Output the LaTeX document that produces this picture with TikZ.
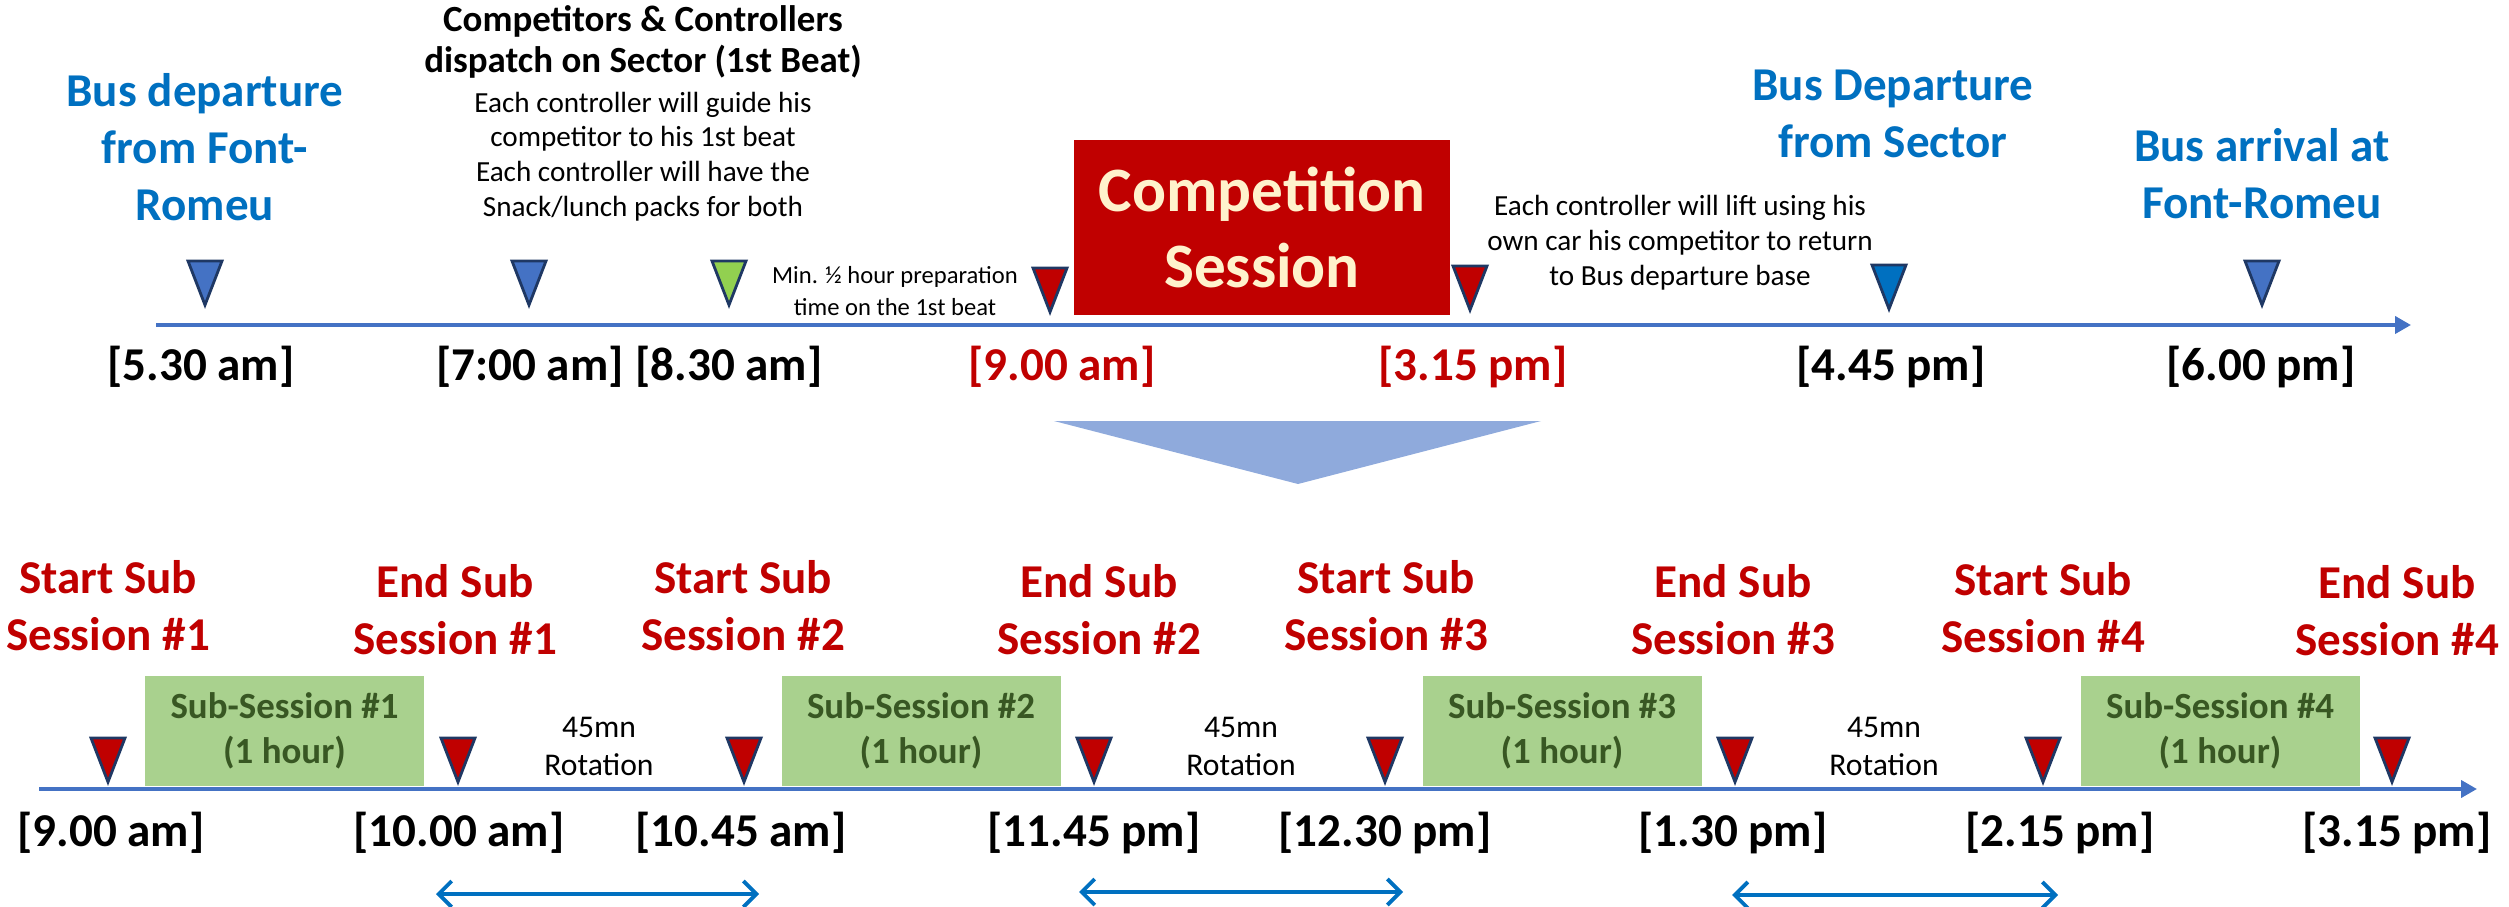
\documentclass[tikz,border=0pt]{standalone}
\usepackage{fontspec}
\setmainfont{Carlito}
\usepackage{tikz}
\usetikzlibrary{arrows.meta,positioning}
\definecolor{busblue}{HTML}{0070C0}
\definecolor{tickblue}{HTML}{4472C4}
\definecolor{darkred}{HTML}{C00000}
\definecolor{cream}{HTML}{FFF2CC}
\definecolor{subgreen}{HTML}{A9D18E}
\definecolor{subtext}{HTML}{385723}
\definecolor{lime}{HTML}{92D050}
\definecolor{navyline}{HTML}{1F3864}
\definecolor{fadeblue}{HTML}{8FAADC}

% downward marker: name, x, tip y, fill
\newcommand{\drop}[4]{%
  \coordinate (#1) at (#2,#3);
  \draw[tri,fill=#4] (#1) -- ++(-0.17,0.44) -- ++(0.34,0) -- cycle;}

\begin{document}
\begin{tikzpicture}[
  head/.style={font=\fontsize{13.4}{16.2}\selectfont\bfseries,text=busblue,align=center,inner sep=0pt},
  subhead/.style={head,text=darkred},
  when/.style={font=\fontsize{13.4}{16}\selectfont\bfseries,inner sep=0pt},
  title/.style={font=\fontsize{10.5}{11.7}\selectfont\bfseries,align=center,inner sep=0pt},
  note/.style={font=\fontsize{8.3}{9.9}\selectfont,align=center,inner sep=0pt},
  session/.style={fill=darkred,minimum width=3.76cm,minimum height=1.75cm,text=cream,font=\fontsize{18}{21.9}\selectfont\bfseries,align=center},
  subbox/.style={fill=subgreen,minimum width=2.79cm,minimum height=1.10cm,text=subtext,font=\fontsize{10.5}{12.8}\selectfont\bfseries,align=center},
  rot/.style={font=\fontsize{9}{10.8}\selectfont,align=center,inner sep=0pt},
  axis/.style={draw=tickblue,line width=1.1pt,-{Triangle[length=1.6mm,width=1.7mm]}},
  span/.style={draw=busblue,line width=1.1pt,{Straight Barb[length=1.3mm,width=2.6mm]}-{Straight Barb[length=1.3mm,width=2.6mm]}},
  tri/.style={draw=navyline,line width=0.8pt,line join=miter}
]
\useasboundingbox (0,0) rectangle (25.09,-9.07);

% upper timeline
\coordinate (top0) at (1.56,-3.25);
\coordinate (top1) at (24.11,-3.25);
\draw[axis] (top0) -- (top1);
\drop{t1}{2.05}{-3.05}{tickblue}
\drop{t2}{5.29}{-3.05}{tickblue}
\drop{t3}{7.29}{-3.05}{lime}
\drop{t4}{10.50}{-3.12}{darkred}
\drop{t5}{14.70}{-3.10}{darkred}
\drop{t6}{18.89}{-3.09}{busblue}
\drop{t7}{22.62}{-3.05}{tickblue}

\node[head] (busdep) at (2.05,-1.47) {Bus departure\\from Font-\\Romeu};
\node[title] (dispatch) at (6.43,-0.42) {Competitors \& Controllers\\dispatch on Sector (1st Beat)};
\node[note,below=0.12cm of dispatch] (guide) {Each controller will guide his\\competitor to his 1st beat\\Each controller will have the\\Snack/lunch packs for both};
\node[note,font=\fontsize{7}{9}\selectfont] (prep) at (8.95,-2.91) {Min. ½ hour preparation\\time on the 1st beat};
\node[session] (comp) at (12.62,-2.275) {Competition\\Session};
\node[note] (lift) at (16.80,-2.43) {Each controller will lift using his\\own car his competitor to return\\to Bus departure base};
\node[head] (secdep) at (18.93,-1.14) {Bus Departure\\from Sector};
\node[head] (arrive) at (22.62,-1.74) {Bus arrival at\\Font-Romeu};

\node[when] (h1) at (2.01,-3.67) {[5.30 am]};
\node[when] (h2) at (5.30,-3.67) {[7:00 am]};
\node[when] (h3) at (7.29,-3.67) {[8.30 am]};
\node[when,text=darkred] (h4) at (10.62,-3.67) {[9.00 am]};
\node[when,text=darkred] (h5) at (14.73,-3.67) {[3.15 pm]};
\node[when] (h6) at (18.91,-3.67) {[4.45 pm]};
\node[when] (h7) at (22.61,-3.67) {[6.00 pm]};

% zoom into the session
\fill[fadeblue] (10.54,-4.21) -- (15.41,-4.21) -- (12.98,-4.84) -- cycle;

% lower timeline
\coordinate (low0) at (0.39,-7.89);
\coordinate (low1) at (24.77,-7.89);
\draw[axis] (low0) -- (low1);

\node[subbox] (s1) at (2.845,-7.31) {Sub-Session \#1\\(1 hour)};
\node[subbox] (s2) at (9.21,-7.31) {Sub-Session \#2\\(1 hour)};
\node[subbox] (s3) at (15.62,-7.31) {Sub-Session \#3\\(1 hour)};
\node[subbox] (s4) at (22.20,-7.31) {Sub-Session \#4\\(1 hour)};

\drop{b1}{1.08}{-7.82}{darkred}
\drop{b2}{4.58}{-7.82}{darkred}
\drop{b3}{7.44}{-7.82}{darkred}
\drop{b4}{10.94}{-7.82}{darkred}
\drop{b5}{13.85}{-7.82}{darkred}
\drop{b6}{17.35}{-7.82}{darkred}
\drop{b7}{20.43}{-7.82}{darkred}
\drop{b8}{23.92}{-7.82}{darkred}

\node[subhead] (st1) at (1.08,-6.06) {Start Sub\\Session \#1};
\node[subhead] (en1) at (4.55,-6.10) {End Sub\\Session \#1};
\node[subhead] (st2) at (7.43,-6.06) {Start Sub\\Session \#2};
\node[subhead] (en2) at (10.99,-6.10) {End Sub\\Session \#2};
\node[subhead] (st3) at (13.86,-6.06) {Start Sub\\Session \#3};
\node[subhead] (en3) at (17.33,-6.10) {End Sub\\Session \#3};
\node[subhead] (st4) at (20.43,-6.08) {Start Sub\\Session \#4};
\node[subhead] (en4) at (23.97,-6.11) {End Sub\\Session \#4};

\node[rot] (r1) at (5.99,-7.46) {45mn\\Rotation};
\node[rot] (r2) at (12.41,-7.46) {45mn\\Rotation};
\node[rot] (r3) at (18.84,-7.46) {45mn\\Rotation};

\node[when] (l1) at (1.11,-8.33) {[9.00 am]};
\node[when] (l2) at (4.59,-8.33) {[10.00 am]};
\node[when] (l3) at (7.41,-8.33) {[10.45 am]};
\node[when] (l4) at (10.94,-8.33) {[11.45 pm]};
\node[when] (l5) at (13.85,-8.33) {[12.30 pm]};
\node[when] (l6) at (17.33,-8.33) {[1.30 pm]};
\node[when] (l7) at (20.60,-8.33) {[2.15 pm]};
\node[when] (l8) at (23.97,-8.33) {[3.15 pm]};

\coordinate (a1) at (4.36,-8.94);
\coordinate (a2) at (7.59,-8.94);
\coordinate (a3) at (10.79,-8.92);
\coordinate (a4) at (14.03,-8.92);
\coordinate (a5) at (17.32,-8.95);
\coordinate (a6) at (20.58,-8.95);
\draw[span] (a1) -- (a2);
\draw[span] (a3) -- (a4);
\draw[span] (a5) -- (a6);
\end{tikzpicture}
\end{document}
